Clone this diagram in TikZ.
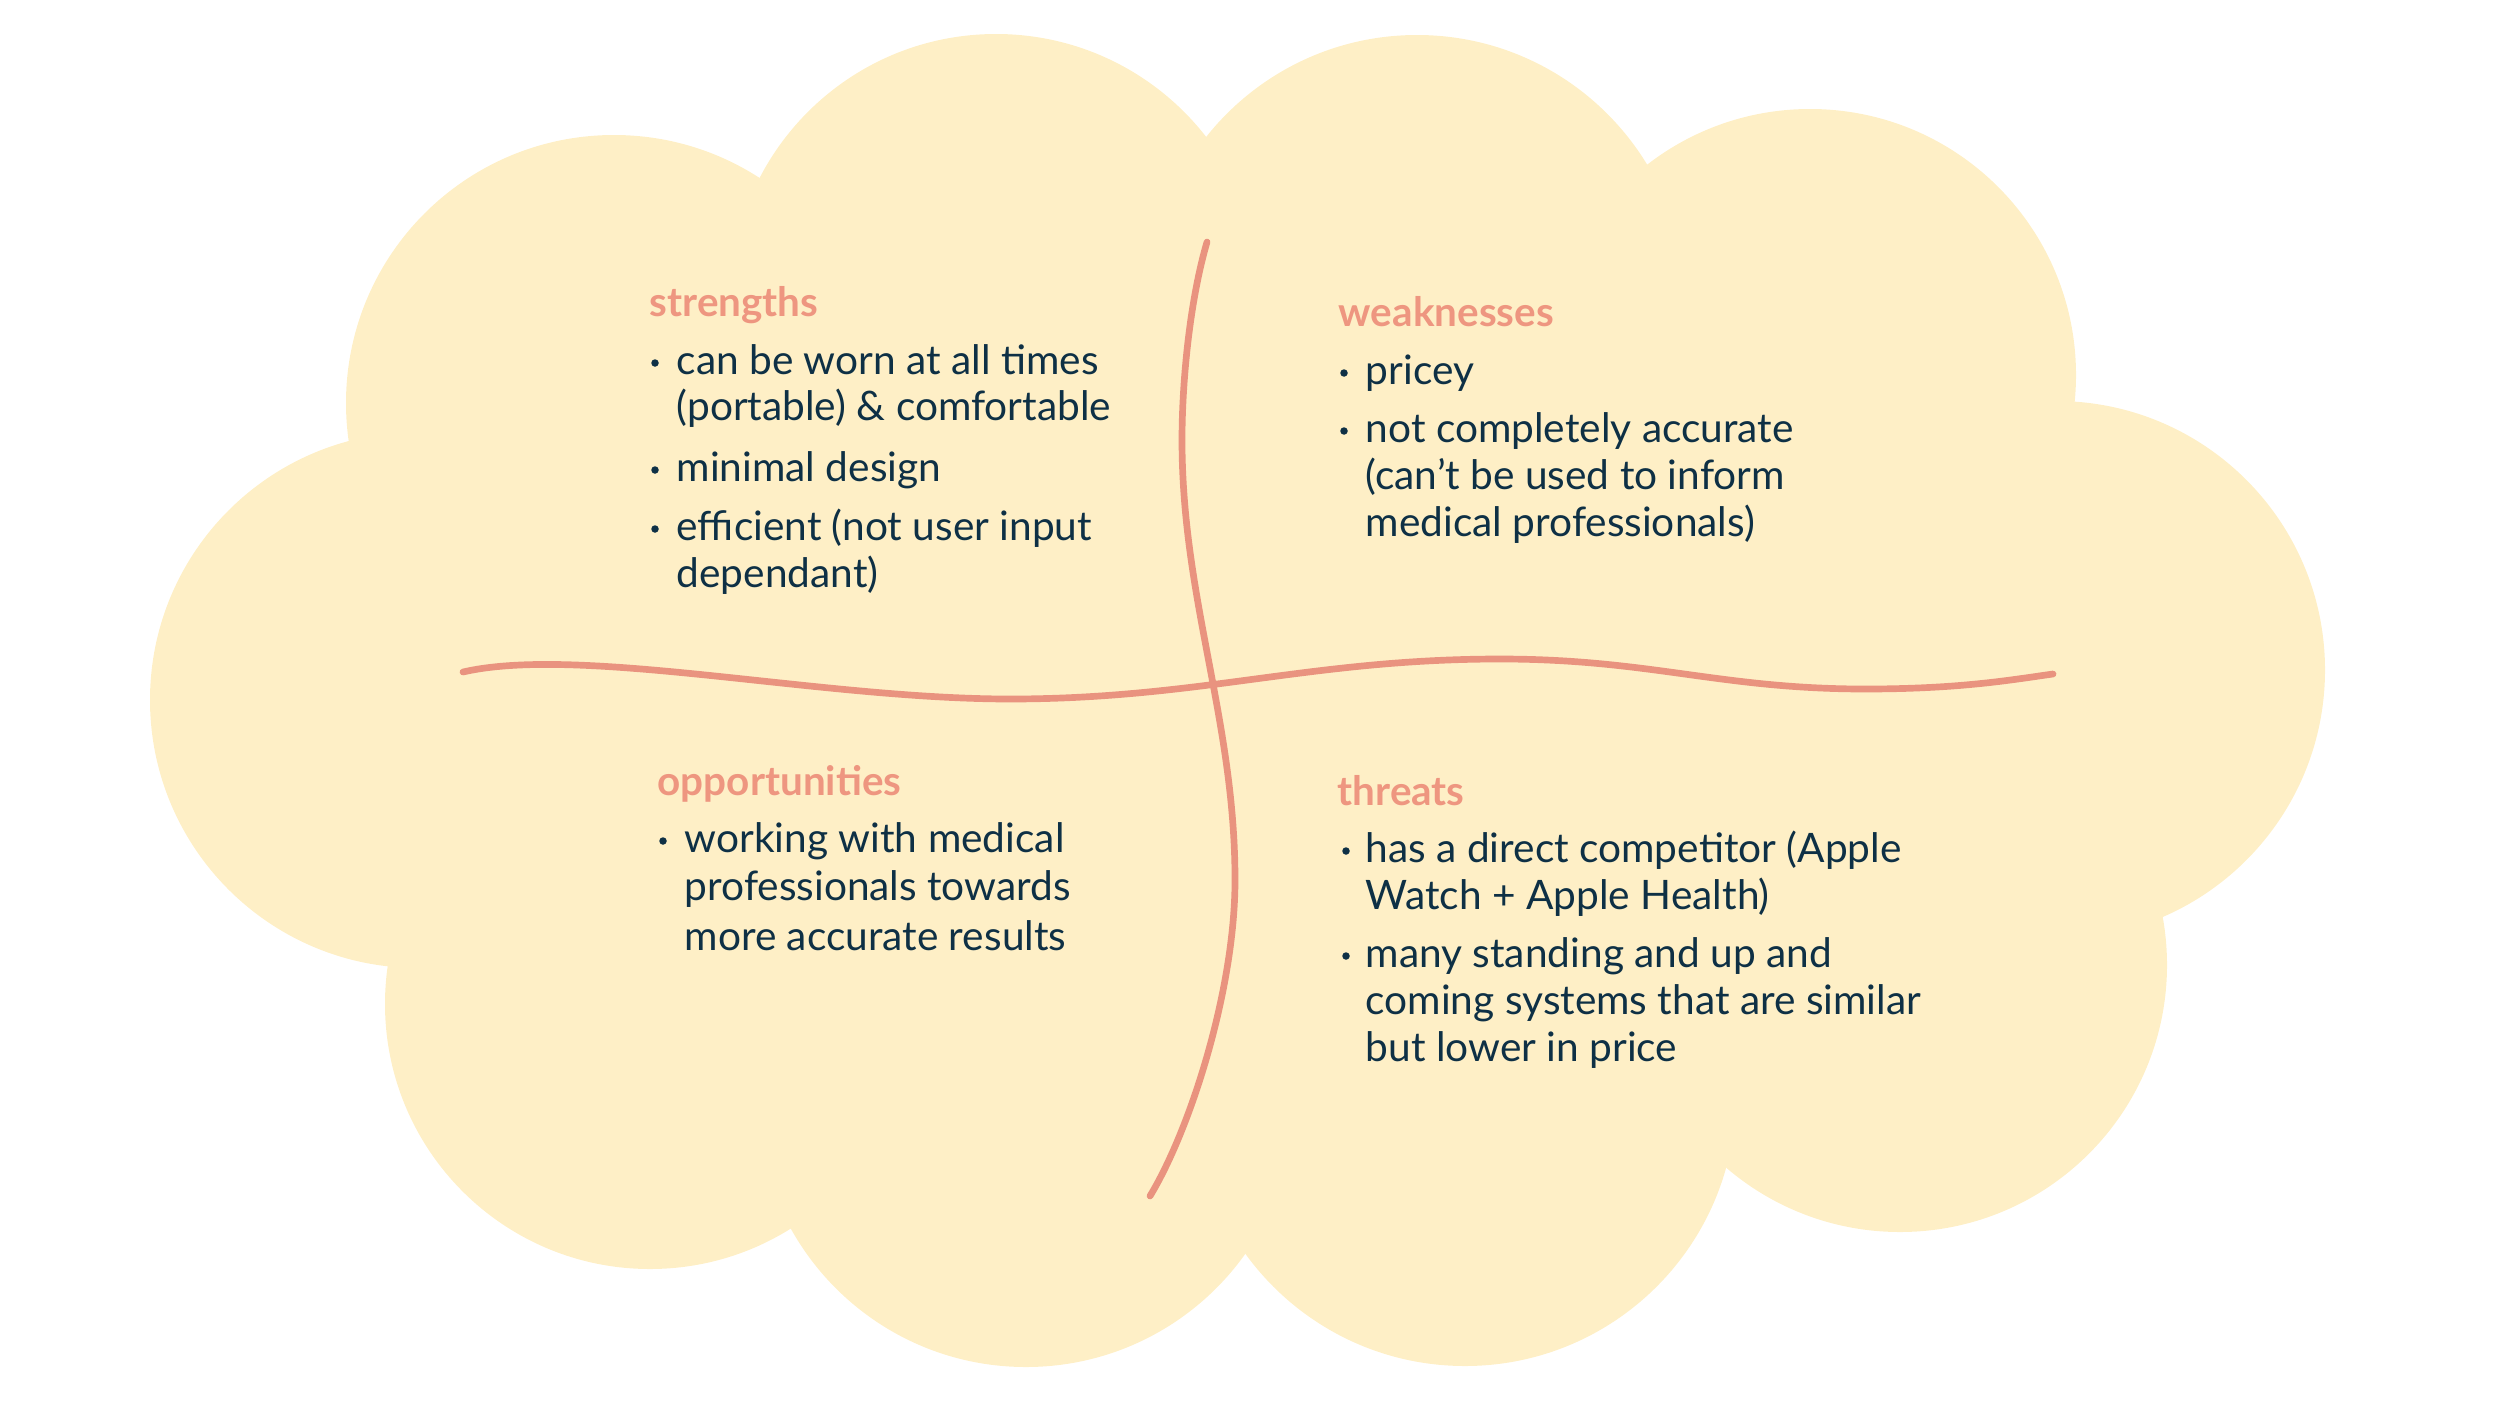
\documentclass[tikz,border=0pt]{standalone}
\usepackage{fontspec}
\setmainfont{Lato}
\definecolor{cream}{HTML}{FEEFC6}
\definecolor{salmon}{HTML}{E9937F}
\definecolor{headc}{HTML}{EE9680}
\definecolor{ink}{HTML}{0E3045}
\tikzset{
  cloudfill/.style={fill=cream},
  divider/.style={draw=salmon, line width=1.9pt, line cap=round},
  head/.style={anchor=base west, inner sep=0pt, text=headc, font=\fontsize{11.5}{14}\selectfont\bfseries},
  body/.style={anchor=base west, inner sep=0pt, text=ink, font=\fontsize{11.55}{14}\selectfont},
  dot/.style={circle, fill=ink, inner sep=0pt, minimum size=7.5*0.01cm},
}
\begin{document}
\begin{tikzpicture}[x=0.01cm,y=-0.01cm]
\useasboundingbox (0,0) rectangle (2500,1406);
% cloud
\fill[cloudfill] (614,403) -- (996,300) -- (1417,304) -- (1810,375) -- (2054,670) -- (1900,965) -- (1465,1095) -- (1026,1098) -- (650,1004) -- (418,700) -- cycle;
\fill[cloudfill] (614,403) circle[radius=268];
\fill[cloudfill] (996,300) circle[radius=266];
\fill[cloudfill] (1417,304) circle[radius=269];
\fill[cloudfill] (1810,375) circle[radius=266];
\fill[cloudfill] (2056,670) circle[radius=269];
\fill[cloudfill] (1900,965) circle[radius=267];
\fill[cloudfill] (1465,1095) circle[radius=271];
\fill[cloudfill] (1026,1098) circle[radius=269];
\fill[cloudfill] (650,1004) circle[radius=265];
\fill[cloudfill] (418,700) circle[radius=268];
% dividers
\coordinate (vtop) at (1207,242);
\coordinate (vbot) at (1150,1196);
\coordinate (hl) at (463,672);
\coordinate (hr) at (2053,674);
\draw[divider] (vtop) .. controls (1190,300) and (1182,380) .. (1182,440)
  .. controls (1182,600) and (1235,720) .. (1235,880)
  .. controls (1235,990) and (1190,1130) .. (vbot);
\draw[divider] (hl) .. controls (580,645) and (820,699) .. (1010,699)
  .. controls (1200,699) and (1310,659) .. (1500,659)
  .. controls (1650,659) and (1720,689) .. (1865,689)
  .. controls (1960,689) and (2010,680) .. (hr);
% strengths
\node[head] (sh) at (649,316) {strengths};
\node[dot] (sb1) at (655,363) {};
\node[body] (s1) at (676,374) {can be worn at all times};
\node[body] (s2) at (676,420) {(portable) \& comfortable};
\node[dot] (sb2) at (655,470) {};
\node[body] (s3) at (676,481) {minimal design};
\node[dot] (sb3) at (655,529) {};
\node[body] (s4) at (676,540) {efficient (not user input};
\node[body] (s5) at (676,587) {dependant)};
% weaknesses
\node[head] (wh) at (1338,326) {weaknesses};
\node[dot] (wb1) at (1344,373) {};
\node[body] (w1) at (1365,384) {pricey};
\node[dot] (wb2) at (1344,431) {};
\node[body] (w2) at (1365,442) {not completely accurate};
\node[body] (w3) at (1365,489) {(can’t be used to inform};
\node[body] (w4) at (1365,536) {medical professionals)};
% opportunities
\node[head] (oh) at (657,795) {opportunities};
\node[dot] (ob1) at (663,841) {};
\node[body] (o1) at (684,852) {working with medical};
\node[body] (o2) at (684,900) {professionals towards};
\node[body] (o3) at (684,950) {more accurate results};
% threats
\node[head] (th) at (1337,805) {threats};
\node[dot] (tb1) at (1346,851) {};
\node[body] (t1) at (1365,862) {has a direct competitor (Apple};
\node[body] (t2) at (1365,909) {Watch + Apple Health)};
\node[dot] (tb2) at (1346,956) {};
\node[body] (t3) at (1365,967) {many standing and up and};
\node[body] (t4) at (1365,1014) {coming systems that are similar};
\node[body] (t5) at (1365,1061) {but lower in price};
\end{tikzpicture}
\end{document}
